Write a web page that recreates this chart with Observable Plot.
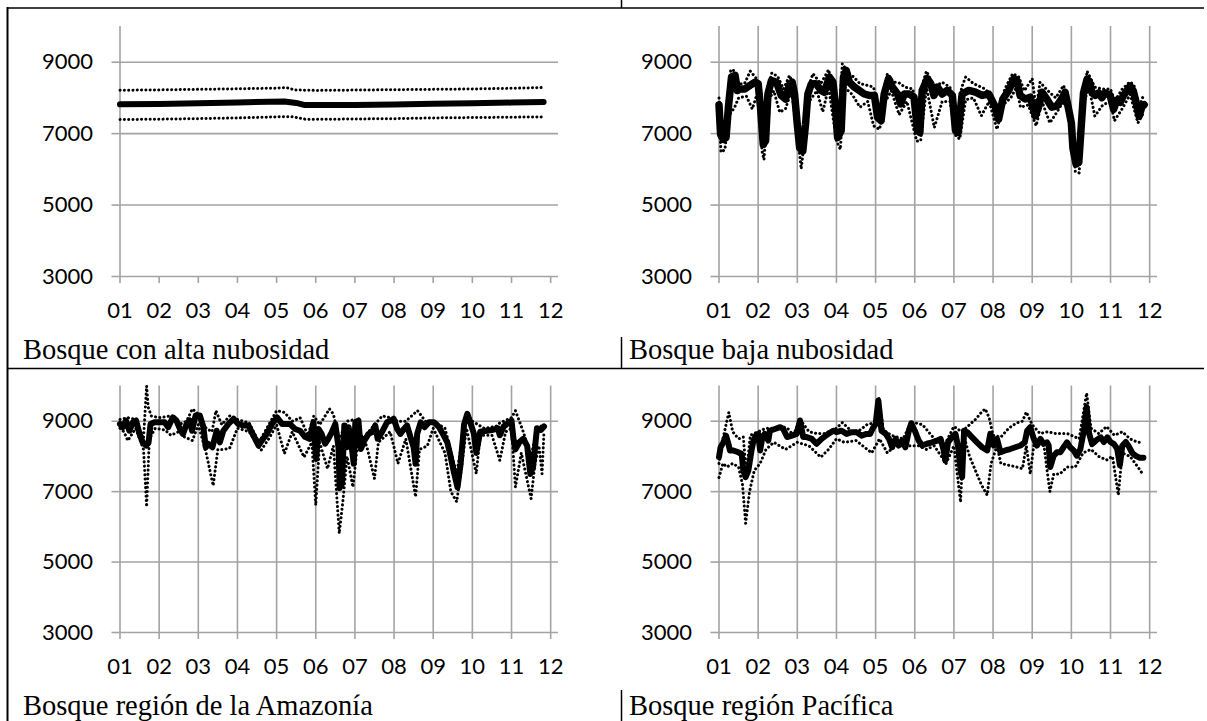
<!DOCTYPE html>
<html>
<head>
<meta charset="utf-8">
<script src="https://cdn.jsdelivr.net/npm/d3@7"></script>
<script src="https://cdn.jsdelivr.net/npm/@observablehq/plot@0.6"></script>
<style>
  html, body { margin: 0; padding: 0; background: #fff; }
  #root { position: relative; width: 1207px; height: 721px; overflow: hidden; background: #fff; }
  .panel { position: absolute; }
  .title { position: absolute; font-family: "Liberation Serif", "Times New Roman", serif; font-size: 28.5px; line-height: 28.5px; color: #000; white-space: nowrap; }
  #borders { position: absolute; left: 0; top: 0; pointer-events: none; }
</style>
</head>
<body>
<div id="root"></div>
<script>
// ---- axis values ----
const yTicks = [3000, 5000, 7000, 9000];
const xTicks = [1, 2, 3, 4, 5, 6, 7, 8, 9, 10, 11, 12];
const xLabels = ["01", "02", "03", "04", "05", "06", "07", "08", "09", "10", "11", "12"];
const titles = ["Bosque con alta nubosidad", "Bosque baja nubosidad", "Bosque región de la Amazonía", "Bosque región Pacífica"];

// ---- Panel 1: Bosque con alta nubosidad  [month, value] ----
const altaMedia = [[1,7820],[2,7830],[3,7850],[4,7870],[4.8,7895],[5.2,7900],[5.5,7860],[5.7,7805],[6,7800],[7,7805],[8,7815],[9,7835],[10,7850],[11,7870],[11.82,7885]];
const altaSup = [[1,8215],[2,8225],[3,8240],[4,8255],[5,8275],[5.25,8290],[5.45,8225],[6,8210],[7,8220],[8,8230],[9,8240],[10,8250],[11,8270],[11.8,8290]];
const altaInf = [[1,7395],[2,7405],[3,7420],[4,7440],[5,7470],[5.4,7475],[5.75,7400],[6,7400],[7,7410],[8,7420],[9,7440],[10,7450],[11,7460],[11.8,7470]];

// ---- Panel 2: Bosque baja nubosidad ----
const bajaMedia = [[1.00,7800],[1.04,6980],[1.11,6840],[1.18,6890],[1.24,7740],[1.32,8585],[1.41,8630],[1.47,8210],[1.53,8250],[1.66,8250],[1.79,8350],[1.92,8440],[2.00,8400],[2.06,7740],[2.13,6700],[2.19,6800],[2.25,8110],[2.34,8490],[2.47,8440],[2.59,8070],[2.70,7970],[2.81,8400],[2.87,8440],[2.93,8110],[3.00,7260],[3.06,6600],[3.14,6510],[3.21,7260],[3.27,8110],[3.36,8400],[3.48,8400],[3.61,8210],[3.69,8160],[3.82,8585],[3.91,8440],[3.97,7830],[4.03,6890],[4.12,7080],[4.18,8585],[4.25,8770],[4.33,8440],[4.46,8300],[4.58,8210],[4.71,8110],[4.84,8070],[4.97,8070],[5.05,7450],[5.14,7360],[5.22,8110],[5.33,8540],[5.43,8300],[5.56,8110],[5.64,7830],[5.73,8110],[5.86,8110],[5.98,8020],[6.07,7080],[6.13,7030],[6.19,8210],[6.32,8540],[6.41,8400],[6.49,8070],[6.58,8300],[6.70,8110],[6.83,8210],[6.96,8070],[7.04,7080],[7.11,7030],[7.21,8110],[7.38,8210],[7.55,8160],[7.72,8070],[7.89,8110],[8.06,7740],[8.14,7400],[8.25,7970],[8.40,8210],[8.53,8540],[8.61,8490],[8.69,8070],[8.82,7970],[8.95,8020],[9.08,7500],[9.16,7740],[9.25,8160],[9.37,7970],[9.50,7740],[9.63,7780],[9.75,7970],[9.84,8160],[9.92,7740],[10.00,7300],[10.04,6590],[10.12,6150],[10.19,6200],[10.23,6850],[10.31,8140],[10.40,8520],[10.46,8460],[10.53,8140],[10.61,8070],[10.70,8140],[10.78,8010],[10.86,8140],[10.99,8070],[11.08,7680],[11.16,7940],[11.25,7880],[11.33,8070],[11.42,8200],[11.50,8330],[11.58,8200],[11.67,7810],[11.73,7490],[11.80,7750],[11.86,7810]];
const bajaSup = [[1.0,8000],[1.1,7000],[1.2,7600],[1.3,8790],[1.4,8760],[1.5,8400],[1.65,8400],[1.8,8750],[1.95,8550],[2.05,8000],[2.15,6900],[2.25,8300],[2.35,8700],[2.5,8600],[2.65,8250],[2.8,8630],[2.92,8300],[3.05,6800],[3.15,6700],[3.3,8350],[3.4,8680],[3.6,8400],[3.8,8790],[3.95,8100],[4.05,7100],[4.15,8960],[4.3,8700],[4.4,8630],[4.6,8400],[4.8,8350],[4.95,8300],[5.05,7650],[5.15,7600],[5.3,8680],[5.45,8450],[5.6,8420],[5.75,8300],[5.95,8250],[6.1,7200],[6.2,8400],[6.3,8750],[6.5,8300],[6.7,8440],[6.9,8300],[7.05,7250],[7.2,8300],[7.3,8585],[7.5,8400],[7.7,8300],[7.8,8250],[8.0,8000],[8.15,7600],[8.3,8250],[8.5,8680],[8.65,8600],[8.8,8200],[9.0,8540],[9.1,7700],[9.2,8440],[9.4,8200],[9.6,8000],[9.8,8350],[9.95,7900],[10.1,6350],[10.25,7100],[10.4,8750],[10.6,8300],[10.8,8250],[11.0,8250],[11.1,7900],[11.3,8250],[11.5,8450],[11.6,8350],[11.72,7700],[11.85,8100]];
const bajaInf = [[1.0,7600],[1.05,6480],[1.15,6550],[1.25,7500],[1.4,7740],[1.5,8000],[1.7,8050],[1.85,7690],[2.0,8200],[2.1,6500],[2.15,6270],[2.25,7900],[2.4,8200],[2.55,7600],[2.7,7700],[2.85,8200],[3.0,7000],[3.1,6010],[3.2,7000],[3.3,7900],[3.5,8200],[3.65,7610],[3.8,8300],[4.0,6800],[4.1,6560],[4.2,8300],[4.4,8100],[4.6,7740],[4.8,7900],[4.95,7220],[5.1,7120],[5.25,7900],[5.4,8200],[5.6,7530],[5.8,7900],[6.05,6790],[6.15,6800],[6.3,8300],[6.5,7170],[6.7,7900],[6.9,7900],[7.05,6930],[7.15,6850],[7.3,7950],[7.5,8000],[7.7,7500],[7.9,7900],[8.1,7120],[8.25,7800],[8.45,8000],[8.6,8300],[8.7,7740],[8.9,7800],[9.1,7220],[9.25,7900],[9.45,7300],[9.6,7550],[9.8,7900],[10.0,7400],[10.1,5940],[10.2,5900],[10.3,7800],[10.45,8300],[10.6,7490],[10.8,7800],[11.0,7900],[11.1,7360],[11.3,7700],[11.5,8100],[11.7,7300],[11.85,7600]];

// ---- Panel 3: Bosque región de la Amazonía ----
const amazMedia = [[1.00,8920],[1.07,8830],[1.15,9020],[1.24,8730],[1.33,8970],[1.41,9020],[1.50,8640],[1.58,8400],[1.67,8310],[1.73,8400],[1.78,8920],[1.88,8970],[2.01,8970],[2.14,8970],[2.23,8830],[2.35,9110],[2.44,9020],[2.53,8780],[2.61,8640],[2.70,8920],[2.78,9020],[2.84,8730],[2.93,9160],[3.04,9160],[3.13,8830],[3.19,8260],[3.25,8360],[3.36,8260],[3.47,8730],[3.55,8400],[3.64,8730],[3.77,8920],[3.90,9070],[4.02,8920],[4.15,8880],[4.28,8880],[4.41,8590],[4.54,8310],[4.62,8450],[4.75,8640],[4.88,8920],[5.01,9110],[5.14,8920],[5.27,8920],[5.34,8920],[5.47,8780],[5.60,8730],[5.73,8550],[5.85,8500],[5.94,8970],[6.01,7930],[6.07,8780],[6.15,8640],[6.24,8360],[6.32,8500],[6.41,8690],[6.50,8920],[6.58,8260],[6.61,7100],[6.67,7220],[6.73,8880],[6.79,8260],[6.84,8830],[6.92,8260],[6.97,7790],[7.01,8970],[7.09,9020],[7.15,8210],[7.24,8450],[7.35,8640],[7.44,8690],[7.52,8880],[7.58,8500],[7.69,8690],[7.82,8970],[7.92,9020],[7.99,9070],[8.08,8780],[8.16,8640],[8.25,8780],[8.33,8880],[8.42,8550],[8.50,8260],[8.55,7790],[8.59,8640],[8.68,8970],[8.78,8830],[8.89,8970],[9.02,8970],[9.15,8830],[9.27,8590],[9.36,8400],[9.44,8020],[9.53,7550],[9.62,7120],[9.70,7790],[9.79,8920],[9.87,9210],[9.96,8920],[10.04,8640],[10.10,8100],[10.20,8700],[10.50,8750],[10.65,8800],[10.70,8600],[10.80,8850],[11.00,9020],[11.05,8500],[11.10,8200],[11.20,8400],[11.30,8500],[11.40,8300],[11.48,7500],[11.55,7700],[11.65,8800],[11.75,8750],[11.83,8850]];
const amazSup = [[1.0,9050],[1.2,9100],[1.4,9050],[1.6,8500],[1.68,10000],[1.72,9400],[1.8,9150],[2.0,9100],[2.3,9150],[2.5,8900],[2.7,9000],[2.85,9350],[3.0,9200],[3.2,8800],[3.35,8700],[3.45,9300],[3.6,8900],[3.8,9150],[4.0,9050],[4.3,8950],[4.55,8400],[4.8,8900],[5.0,9300],[5.2,9250],[5.4,9000],[5.6,9100],[5.8,8600],[5.95,9150],[6.1,8900],[6.35,9350],[6.45,9200],[6.6,8500],[6.8,9000],[7.0,9050],[7.2,8500],[7.5,8900],[7.7,9150],[7.9,9100],[8.1,9000],[8.3,9000],[8.45,9150],[8.6,9300],[8.8,9000],[9.0,9000],[9.3,8800],[9.6,7500],[9.85,9250],[10.0,9000],[10.3,8800],[10.6,8850],[10.7,8950],[11.0,9100],[11.1,9300],[11.3,8700],[11.5,8000],[11.65,8800],[11.83,8900]];
const amazInf = [[1.0,8800],[1.1,8700],[1.2,8450],[1.4,8800],[1.6,8200],[1.68,6570],[1.75,8500],[1.9,8800],[2.15,8750],[2.3,8600],[2.5,8700],[2.65,8550],[2.85,8450],[3.0,8900],[3.2,8100],[3.38,7170],[3.5,8200],[3.65,8200],[3.8,8230],[4.0,8800],[4.3,8700],[4.6,8170],[4.8,8500],[5.0,8900],[5.2,8080],[5.4,8700],[5.7,7980],[5.9,8400],[6.0,6610],[6.1,8400],[6.3,7650],[6.45,8300],[6.6,5810],[6.7,6800],[6.8,8000],[6.95,7130],[7.1,8700],[7.3,8300],[7.5,7370],[7.6,8400],[7.9,8700],[8.1,7800],[8.3,8500],[8.55,6850],[8.65,8200],[8.85,8300],[9.0,8800],[9.3,8100],[9.45,7000],[9.6,6710],[9.7,7500],[9.85,8800],[10.1,7510],[10.2,8600],[10.5,8600],[10.7,7890],[10.85,8700],[11.0,8800],[11.1,7130],[11.25,8100],[11.5,6800],[11.6,7800],[11.7,8300],[11.78,7510],[11.83,8700]];

// ---- Panel 4: Bosque región Pacífica ----
const paciMedia = [[1.00,7980],[1.04,8260],[1.11,8400],[1.18,8590],[1.24,8360],[1.28,8170],[1.37,8170],[1.49,8120],[1.58,8070],[1.62,7600],[1.68,7410],[1.75,7600],[1.83,8170],[1.88,8450],[1.94,8590],[2.00,8640],[2.05,8170],[2.11,8550],[2.17,8640],[2.26,8450],[2.30,8730],[2.43,8780],[2.56,8830],[2.64,8780],[2.74,8550],[2.86,8590],[2.98,8640],[3.07,9020],[3.15,8550],[3.24,8550],[3.37,8500],[3.49,8360],[3.62,8500],[3.79,8640],[3.92,8730],[4.00,8690],[4.13,8730],[4.26,8640],[4.39,8690],[4.51,8690],[4.64,8590],[4.77,8640],[4.86,8640],[4.92,8780],[5.00,8920],[5.07,9590],[5.15,8730],[5.26,8640],[5.34,8500],[5.42,8260],[5.51,8500],[5.59,8310],[5.68,8450],[5.76,8260],[5.85,8730],[5.91,8940],[6.00,8730],[6.10,8450],[6.19,8310],[6.31,8360],[6.44,8400],[6.57,8450],[6.66,8500],[6.74,8170],[6.78,7880],[6.85,8400],[6.95,8550],[7.04,8640],[7.11,8260],[7.17,7600],[7.21,7410],[7.26,8730],[7.34,8690],[7.46,8550],[7.59,8400],[7.72,8260],[7.85,8170],[7.93,8640],[8.02,8310],[8.10,8500],[8.19,8120],[8.31,8170],[8.44,8210],[8.57,8260],[8.70,8310],[8.81,8400],[8.87,8730],[8.95,8830],[9.04,8500],[9.12,8310],[9.21,8500],[9.29,8360],[9.38,8400],[9.42,8310],[9.46,7700],[9.55,8020],[9.63,8120],[9.72,8120],[9.80,8260],[9.89,8400],[9.97,8260],[10.06,8170],[10.14,8020],[10.23,8210],[10.32,8740],[10.39,9400],[10.45,8670],[10.53,8350],[10.66,8480],[10.75,8540],[10.83,8410],[10.92,8540],[11.00,8410],[11.09,8350],[11.17,8220],[11.24,7750],[11.30,8300],[11.39,8410],[11.47,8280],[11.56,8090],[11.64,8020],[11.75,7960],[11.84,7960]];
const paciSup = [[1.0,7800],[1.1,8500],[1.2,9000],[1.25,9250],[1.35,8700],[1.5,8500],[1.62,8550],[1.7,7500],[1.8,8600],[2.0,8700],[2.2,8800],[2.4,8800],[2.6,8850],[2.75,8800],[2.9,8600],[3.07,9050],[3.3,8700],[3.5,8650],[3.7,8650],[4.0,8800],[4.15,8960],[4.4,8700],[4.6,8750],[4.8,8920],[5.0,8950],[5.08,9650],[5.2,8750],[5.4,8600],[5.7,8500],[5.92,8980],[6.2,8900],[6.5,8500],[6.75,8300],[7.0,8850],[7.2,8700],[7.4,8900],[7.55,9050],[7.7,9250],[7.8,9350],[7.9,9100],[8.0,8600],[8.2,8550],[8.4,8800],[8.6,8950],[8.75,9000],[8.85,9260],[9.0,8900],[9.2,8650],[9.4,8700],[9.6,8650],[9.9,8650],[10.2,8500],[10.39,9800],[10.5,8800],[10.7,8650],[10.9,8850],[11.1,8600],[11.3,8700],[11.5,8500],[11.7,8400],[11.82,8400]];
const paciInf = [[1.0,7400],[1.1,7800],[1.2,7700],[1.35,7800],[1.5,7700],[1.6,7200],[1.68,6100],[1.78,7000],[1.9,7600],[2.05,7800],[2.2,8200],[2.4,8400],[2.7,8200],[3.0,8400],[3.3,8300],[3.6,7980],[3.8,8200],[4.0,8500],[4.2,8400],[4.5,8450],[4.9,8100],[5.1,8500],[5.3,8100],[5.5,8300],[5.8,8300],[6.1,8300],[6.3,8200],[6.5,8300],[6.8,7800],[7.0,8300],[7.17,6700],[7.25,8600],[7.4,8000],[7.55,7600],[7.7,7200],[7.85,6900],[7.95,7800],[8.1,8300],[8.2,7800],[8.4,7750],[8.6,7700],[8.75,7650],[8.85,8300],[8.95,7500],[9.05,8400],[9.3,8300],[9.45,7000],[9.55,7500],[9.7,7500],[9.9,7700],[10.1,7700],[10.3,8100],[10.5,8200],[10.7,8000],[10.9,7900],[11.05,8000],[11.2,6900],[11.3,8100],[11.5,8000],[11.7,7700],[11.82,7500]];

// ---- drawing ----
const GRAY = "#a3a3a3";
const root = document.getElementById("root");

function makePanel({mean, upper, lower, vgrid, left, top, marginTop, marginBottom, meanWidth}) {
  const marks = [
    Plot.ruleY(yTicks, {stroke: GRAY, strokeWidth: 1.6})
  ];
  if (vgrid) marks.push(Plot.ruleX(xTicks, {stroke: GRAY, strokeWidth: 1.6}));
  else marks.push(Plot.ruleX([1], {stroke: GRAY, strokeWidth: 1.6}));
  marks.push(
    Plot.axisY(yTicks, {tickSize: 8, tickPadding: 19, stroke: GRAY, strokeWidth: 1.6, fill: "#000", fontSize: 22, label: null,
      tickFormat: d => String(d)}),
    Plot.axisX(xTicks, {tickSize: 7, tickPadding: 19, stroke: GRAY, strokeWidth: 1.6, fill: "#000", fontSize: 22, label: null,
      tickFormat: d => xLabels[xTicks.indexOf(d)]}),
    Plot.line(lower, {x: d => d[0], y: d => d[1], stroke: "#000", strokeWidth: 3, strokeDasharray: "0.1 4.2", strokeLinecap: "round"}),
    Plot.line(upper, {x: d => d[0], y: d => d[1], stroke: "#000", strokeWidth: 3, strokeDasharray: "0.1 4.2", strokeLinecap: "round"}),
    Plot.line(mean, {x: d => d[0], y: d => d[1], stroke: "#000", strokeWidth: meanWidth, strokeLinejoin: "round", strokeLinecap: "round"})
  );
  const svg = Plot.plot({
    width: 600, height: 330,
    marginTop, marginBottom, marginLeft: 119.5, marginRight: 42,
    x: {domain: [1, 12.2]},
    y: {domain: [3000, 10000]},
    style: {fontFamily: "Lato, 'Open Sans', sans-serif", fontSize: "22px", color: "#000", background: "transparent", overflow: "visible"},
    marks
  });
  const wrap = document.createElement("div");
  wrap.className = "panel";
  wrap.style.left = left + "px";
  wrap.style.top = top + "px";
  wrap.appendChild(svg);
  root.appendChild(wrap);
}

makePanel({mean: altaMedia, upper: altaSup, lower: altaInf, vgrid: false, left: 0, top: 0, marginTop: 26, marginBottom: 54, meanWidth: 6});
makePanel({mean: bajaMedia, upper: bajaSup, lower: bajaInf, vgrid: true, left: 599, top: 0, marginTop: 26, marginBottom: 54, meanWidth: 7.5});
makePanel({mean: amazMedia, upper: amazSup, lower: amazInf, vgrid: true, left: 0, top: 359, marginTop: 26.5, marginBottom: 57, meanWidth: 6});
makePanel({mean: paciMedia, upper: paciSup, lower: paciInf, vgrid: true, left: 599, top: 359, marginTop: 26.5, marginBottom: 57, meanWidth: 6});

// titles
const titlePos = [[23, 336], [629, 336], [23, 692], [629, 692]];
titles.forEach((t, i) => {
  const d = document.createElement("div");
  d.className = "title";
  d.textContent = t;
  d.style.left = titlePos[i][0] + "px";
  d.style.top = titlePos[i][1] + "px";
  root.appendChild(d);
});

// table borders
const ns = "http://www.w3.org/2000/svg";
const b = document.createElementNS(ns, "svg");
b.setAttribute("id", "borders");
b.setAttribute("width", 1207);
b.setAttribute("height", 721);
const segs = [
  [7, 8, 1204, 8, 1.5],
  [7, 368.5, 1204, 368.5, 1.5],
  [7.5, 7, 7.5, 721, 2],
  [621.5, 0, 621.5, 8, 1.5],
  [621.5, 337, 621.5, 368.5, 1.5],
  [621.5, 690, 621.5, 721, 1.5]
];
segs.forEach(([x1, y1, x2, y2, w]) => {
  const l = document.createElementNS(ns, "line");
  l.setAttribute("x1", x1); l.setAttribute("y1", y1);
  l.setAttribute("x2", x2); l.setAttribute("y2", y2);
  l.setAttribute("stroke", "#000"); l.setAttribute("stroke-width", w);
  b.appendChild(l);
});
root.appendChild(b);
</script>
</body>
</html>
